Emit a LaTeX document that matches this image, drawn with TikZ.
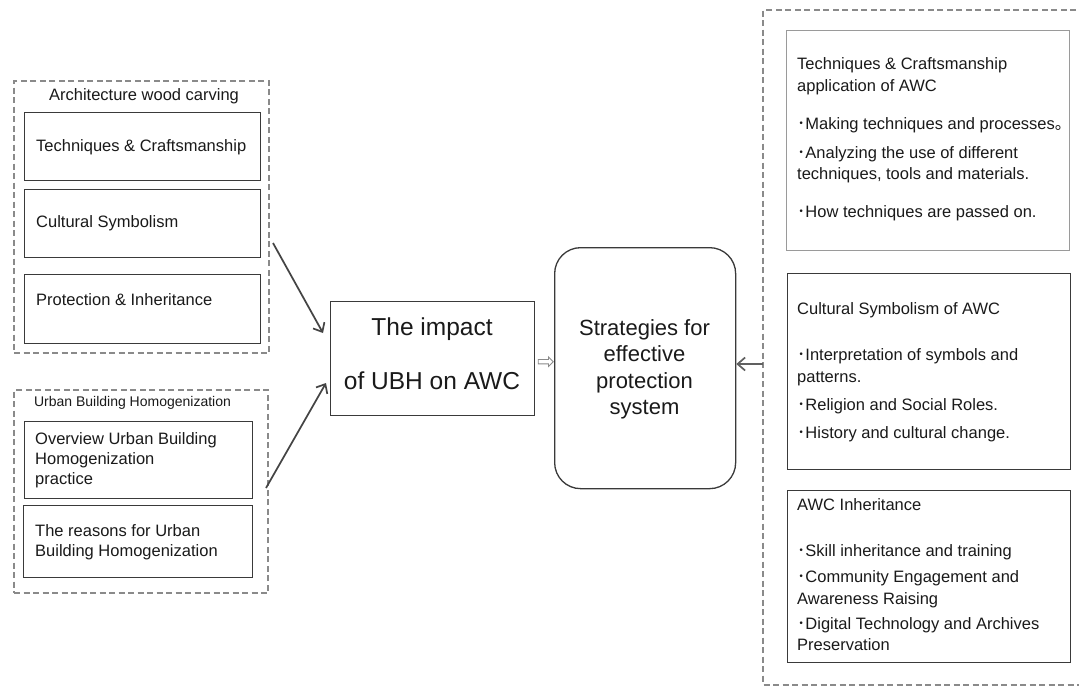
\documentclass[tikz,border=0pt]{standalone}
\usepackage{fontspec}
\setmainfont{Liberation Sans}
\newfontfamily\cjk{Noto Sans CJK JP}
\usetikzlibrary{arrows.meta,shapes.arrows,calc}
\definecolor{boxc}{HTML}{3A3A3A}
\definecolor{lboxc}{HTML}{9A9A9A}
\definecolor{dashc}{HTML}{8A8A8A}
\definecolor{arrc}{HTML}{444444}
\definecolor{txtc}{HTML}{1A1A1A}
\newcommand\bl{{\cjk ･}}
\newcommand\fsz[2]{\fontsize{#1}{#2}\selectfont}
\begin{document}
\begin{tikzpicture}[x=1pt,y=-1pt,
  box/.style={draw=boxc, line width=1.3pt, inner sep=0pt, anchor=north west},
  lbox/.style={draw=lboxc, line width=1pt, inner sep=0pt, anchor=north west},
  dashbox/.style={draw=dashc, line width=2pt, dash pattern=on 6pt off 3.5pt},
  txt/.style={text=txtc, inner sep=0pt, align=left, font=\fsz{16.5}{21.5}},
  ltxt/.style={txt, anchor=west, font=\fsz{16.5}{20}},
  arr/.style={draw=arrc, line width=1.7pt, -{Straight Barb[length=7.5pt,width=13pt,line width=1.7pt]}},
]
\useasboundingbox (0,0) rectangle (1079,686);
\clip (0,0) rectangle (1079,686);
\fill[white] (0,0) rectangle (1079,686);

% ---- left top group
\node[dashbox, inner sep=0pt, anchor=north west, minimum width=255, minimum height=272] (g1) at (13,80) {};
\node[txt, anchor=center] (g1t) at (144,96) {Architecture wood carving};
\node[box, minimum width=236, minimum height=68] (b1) at (24,112) {};
\node[ltxt] (b1t) at (36,147) {Techniques \& Craftsmanship};
\node[box, minimum width=236, minimum height=68] (b2) at (24,189) {};
\node[ltxt] (b2t) at (36,223) {Cultural Symbolism};
\node[box, minimum width=236, minimum height=69] (b3) at (24,274) {};
\node[ltxt] (b3t) at (36,300) {Protection \& Inheritance};

% ---- left bottom group
\node[dashbox, inner sep=0pt, anchor=north west, minimum width=254, minimum height=203] (g2) at (13,389) {};
\node[txt, anchor=center, font=\fsz{14}{17}] (g2t) at (132.5,403) {Urban Building Homogenization};
\node[box, minimum width=228, minimum height=77] (b4) at (24,421) {};
\node[ltxt] (b4t) at (35,460.5) {Overview Urban Building\\Homogenization\\practice};
\node[box, minimum width=229, minimum height=72] (b5) at (23,505) {};
\node[ltxt] (b5t) at (35,542) {The reasons for Urban\\Building Homogenization};

% ---- impact
\node[box, minimum width=204, minimum height=114] (impact) at (330,301) {};
\node[txt, align=center, font=\fsz{24.5}{29}] (impt) at (432,354) {The impact\\[25pt]of UBH on AWC};

% ---- strategies
\node[box, rounded corners=26pt, minimum width=181, minimum height=241] (strat) at (554,247) {};
\node[txt, align=center, font=\fsz{22}{26.5}] (stratt) at (644.5,369.5) {Strategies for\\effective\\protection\\system};

% hollow arrow between impact and strategies
\node[single arrow, draw=dashc, fill=white, line width=0.9pt, inner sep=1.7pt,
      single arrow head extend=2.6pt, minimum height=15pt, shape border rotate=0] (ha) at ($(impact.east)!0.5!(strat.west |- impact.east)+(0,3)$) {};

% ---- right group
\draw[dashbox] (1095,10) -- (763,10) -- (763,684.5) -- (1095,684.5);
\coordinate (rd) at (763,364);

\node[lbox, minimum width=283, minimum height=220] (tc) at (786,30) {};
\node[txt, anchor=north west] (tct) at (797,57.5) {Techniques \& Craftsmanship\\
application of AWC\\[16.5pt]
\bl Making techniques and processes{\cjk 。}\\[7.5pt]
\bl Analyzing the use of different\\
techniques, tools and materials.\\[16.5pt]
\bl How techniques are passed on.};

\node[box, minimum width=283, minimum height=196] (cs) at (787,273) {};
\node[txt, anchor=north west] (cst) at (797,302.5) {Cultural Symbolism of AWC\\[24.5pt]
\bl Interpretation of symbols and\\
patterns.\\[6.5pt]
\bl Religion and Social Roles.\\[6.5pt]
\bl History and cultural change.};

\node[box, minimum width=283, minimum height=172] (ai) at (787,490) {};
\node[txt, anchor=north west] (ait) at (797,498.5) {AWC Inheritance\\[24.5pt]
\bl Skill inheritance and training\\[4.5pt]
\bl Community Engagement and\\
Awareness Raising\\[3.5pt]
\bl Digital Technology and Archives\\
Preservation};

% ---- connectors
\coordinate (s1) at (273,243);
\coordinate (e1) at (323,333);
\coordinate (s2) at (266,488);
\coordinate (e2) at (326,383);
\draw[arr] (s1) -- (e1);
\draw[arr] (s2) -- (e2);
\draw[arr, draw=arrc!85] (rd) -- (rd -| strat.east);
\end{tikzpicture}
\end{document}
